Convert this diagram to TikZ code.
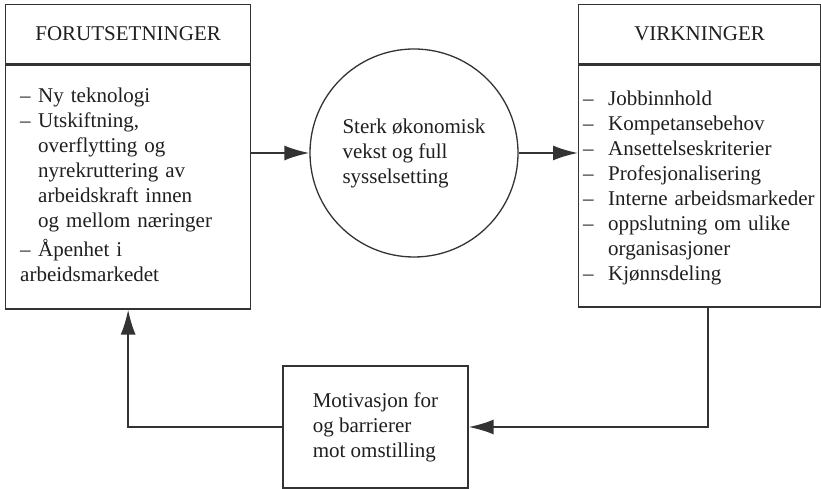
\documentclass[tikz,border=0pt]{standalone}
\usepackage{fontspec}
\setmainfont{Liberation Serif}
\usetikzlibrary{arrows.meta,positioning}
\definecolor{strek}{HTML}{333333}
\definecolor{tekst}{HTML}{1f1f1f}

\newlength{\punktinnrykk}
\newcommand{\punkt}{\par\hangindent=\punktinnrykk\hangafter=1%
  \makebox[\punktinnrykk][l]{\textendash}}
\newcommand{\diagramfont}{\fontsize{21}{25}\selectfont\setlength{\parindent}{0pt}}

\tikzset{
  boks/.style={draw=strek, line width=1.3pt, rectangle, inner sep=0pt},
  sirkel/.style={draw=strek, line width=1.3pt, circle, inner sep=0pt,
    minimum size=208pt, align=left},
  liste/.style={anchor=north west, align=left, inner sep=0pt},
  pil/.style={draw=strek, line width=1.9pt, -{Latex[length=25pt,width=15pt]}},
}

\begin{document}
\begin{tikzpicture}[x=1pt, y=1pt, text=tekst, font=\diagramfont]

% === Wymiary ===
\useasboundingbox (0,0) rectangle (821,489);
\fill[white] (0,0) rectangle (821,489);

% === FORUTSETNINGER ===
\node[boks, anchor=north west, minimum width=245pt, minimum height=59pt]
  (forut_hode) at (5,485) {FORUTSETNINGER};
\node[boks, anchor=north, minimum width=245pt, minimum height=244pt]
  (forut) at (forut_hode.south) {};
\node[liste, text width=228pt,
  execute at begin node=\setlength{\punktinnrykk}{18pt}]
  (forut_liste) at (20,412) {%
  \punkt Ny teknologi
  \punkt Utskiftning,\newline
  overflytting og\newline
  nyrekruttering av\newline
  arbeidskraft innen\newline
  og mellom næringer
  \par\vspace{4pt}%
  \punkt Åpenhet i\newline
  arbeidsmarkedet%
};

% === VIRKNINGER ===
\node[boks, anchor=north west, minimum width=242pt, minimum height=59pt]
  (virk_hode) at (578,485) {VIRKNINGER};
\node[boks, anchor=north, minimum width=242pt, minimum height=242pt]
  (virk) at (virk_hode.south) {};
\node[liste, text width=236pt,
  execute at begin node=\setlength{\punktinnrykk}{25pt}]
  (virk_liste) at (583,409) {%
  \punkt Jobbinnhold
  \punkt Kompetansebehov
  \punkt Ansettelseskriterier
  \punkt Profesjonalisering
  \punkt Interne arbeidsmarkeder
  \punkt oppslutning om ulike\newline
  organisasjoner
  \punkt Kjønnsdeling%
};

% === Sirkel ===
\node[sirkel] (vekst) at (414,336) {%
  Sterk økonomisk\\vekst og full\\sysselsetting};

% === Motivasjon ===
\node[boks, minimum width=185pt, minimum height=122pt, align=left]
  (motiv) at (375.5,62) {%
  Motivasjon for\\og barrierer\\mot omstilling};

% === Piler ===
\draw[pil] (forut.east |- vekst.west) -- (vekst.west);
\draw[pil] (vekst.east) -- (virk.west |- vekst.east);
\draw[pil] ([xshift=8pt]virk.south) |- (motiv.east);
\draw[pil] (motiv.west) -| (forut.south);

\end{tikzpicture}
\end{document}
